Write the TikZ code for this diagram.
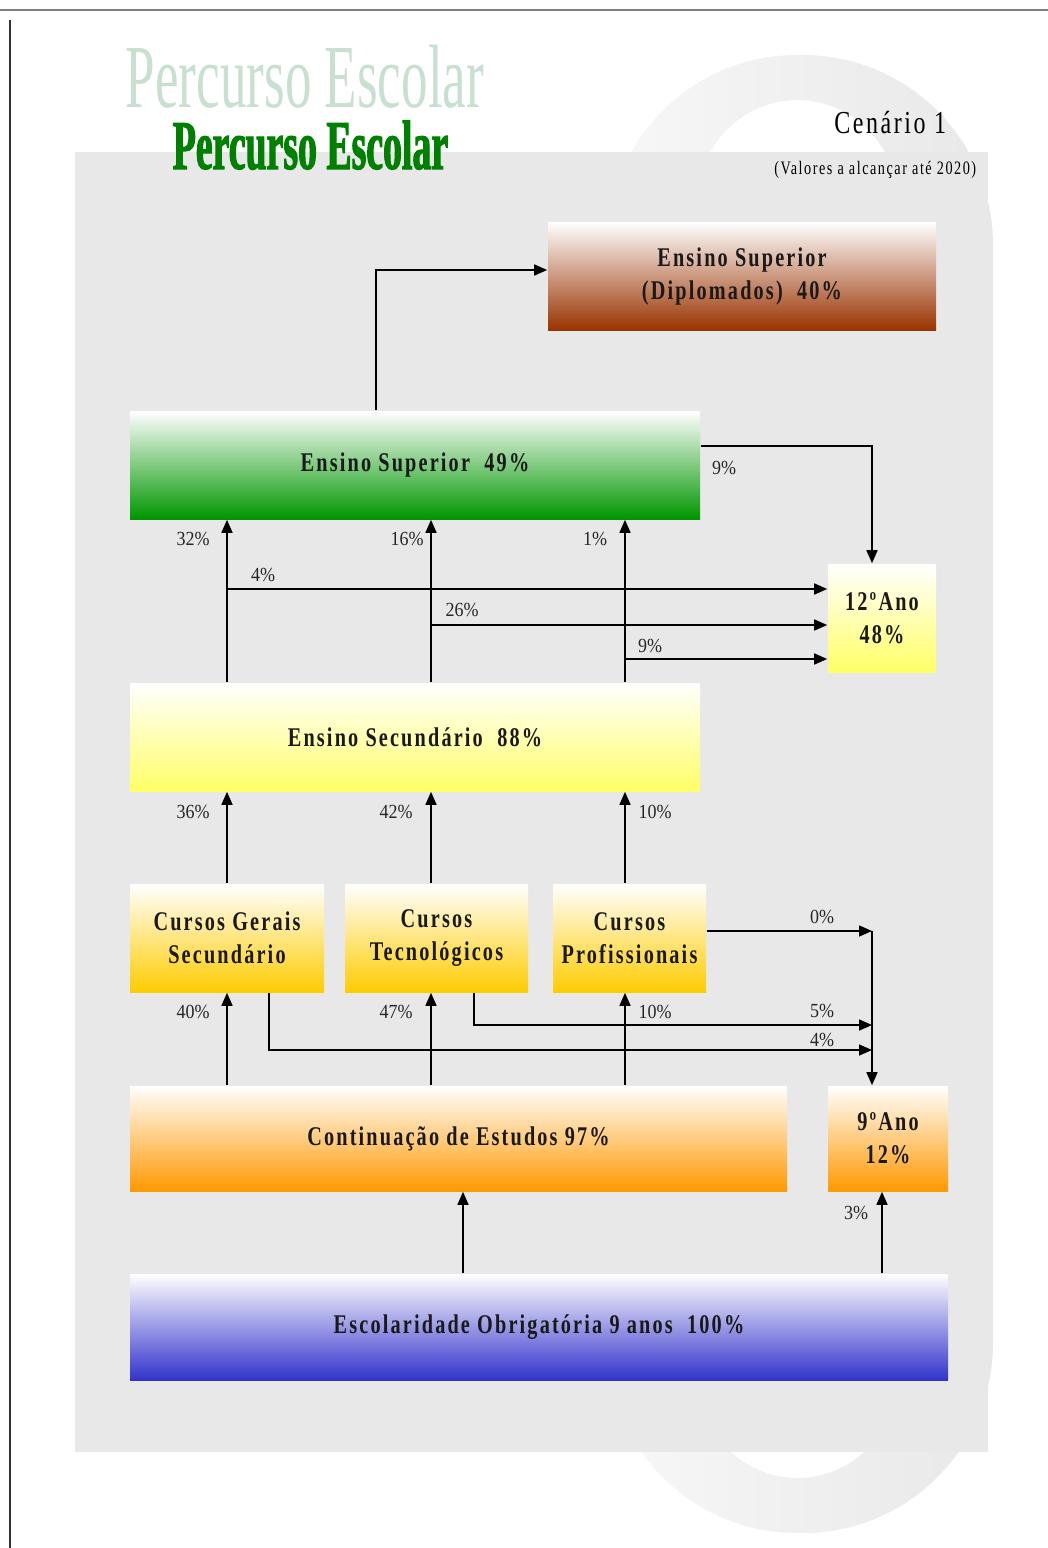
\documentclass[tikz,border=0pt]{standalone}
\usepackage{fontspec}
\setmainfont{Liberation Serif}
\newfontfamily\boxfont[FakeStretch=0.75,LetterSpace=8]{Liberation Serif}
\newfontfamily\pctfont[FakeStretch=0.9]{Liberation Serif}
\newfontfamily\titlefont[FakeStretch=0.59]{Liberation Serif}
\newfontfamily\titleboldfont[FakeStretch=0.54,FakeBold=1.5]{Liberation Serif}
\usetikzlibrary{arrows.meta}
\usetikzlibrary{calc}

\definecolor{bggray}{RGB}{232,232,232}
\definecolor{dipred}{RGB}{153,51,0}
\definecolor{supgreen}{RGB}{0,150,0}
\definecolor{secyellow}{RGB}{255,255,102}
\definecolor{curgold}{RGB}{255,204,0}
\definecolor{contorange}{RGB}{255,153,0}
\definecolor{escblue}{RGB}{51,51,204}
\definecolor{titlelight}{RGB}{200,224,208}
\definecolor{titledark}{RGB}{0,128,0}

\begin{document}
\begin{tikzpicture}[x=0.5pt, y=-0.5pt, line width=0.8pt,
        box_style/.style={rectangle, inner sep=0pt, align=center, text=black!90, top color=white, font=\boxfont\bfseries\fontsize{13.5pt}{16.5pt}\selectfont},
        pct_style/.style={inner sep=0pt, text=black!85, font=\pctfont\fontsize{10pt}{12pt}\selectfont},
        edge_style/.style={draw=black, line width=0.8pt, -{Triangle[length=6.5pt,width=5.5pt]}}]

        \useasboundingbox (0,0) rectangle (1048,1548);

        \shade [left color=black!3, right color=black!9, even odd rule, rounded corners=95pt] (607,55) rectangle (993,1533) [rounded corners=50pt] (698,100) rectangle (897,1478);

        \fill [bggray] (75,152) rectangle (988,1452);

        \draw [gray, line width=1pt] (0,10) -- (1048,10);

        \draw [black!80, line width=1pt] (10,20) -- (10,1548);

        \node [anchor=base west, inner sep=0pt, text=titlelight, font=\titlefont\fontsize{45pt}{50pt}\selectfont] (title_back) at (125,107) {Percurso Escolar};

        \node [anchor=base west, inner sep=0pt, text=titledark, font=\titleboldfont\bfseries\fontsize{35pt}{40pt}\selectfont] (title_front) at (172,169) {Percurso Escolar};

        \node [anchor=base east, inner sep=0pt, font=\boxfont\fontsize{16pt}{18pt}\selectfont] (scen) at (947,133) {Cenário 1};

        \node [anchor=base east, inner sep=0pt, font=\boxfont\fontsize{9.5pt}{11pt}\selectfont] (scen_note) at (977,174) {(Valores a alcançar até 2020)};

        \node [box_style, bottom color=dipred, minimum width=194pt, minimum height=54pt] (ens_dip) at (742,276) {Ensino Superior\\(Diplomados)\ \ 40\%};

        \node [box_style, bottom color=supgreen, minimum width=285pt, minimum height=54pt] (ens_sup) at (415,465) {Ensino Superior\ \ 49\%};

        \node [box_style, bottom color=secyellow, minimum width=54pt, minimum height=54pt] (ano_12) at (882,618) {12ºAno\\48\%};

        \node [box_style, bottom color=secyellow, minimum width=285pt, minimum height=54pt] (ens_sec) at (415,737) {Ensino Secundário\ \ 88\%};

        \node [box_style, bottom color=curgold, minimum width=97pt, minimum height=54pt] (cur_ger) at (227,938) {Cursos Gerais\\Secundário};

        \node [box_style, bottom color=curgold, minimum width=91.5pt, minimum height=54pt] (cur_tec) at (436.5,938) {Cursos\\Tecnológicos};

        \node [box_style, bottom color=curgold, minimum width=76.5pt, minimum height=54pt] (cur_pro) at (629.5,938) {Cursos\\Profissionais};

        \node [box_style, bottom color=contorange, minimum width=328.5pt, minimum height=52.5pt] (cont_est) at (458.5,1138.5) {Continuação de Estudos 97\%};

        \node [box_style, bottom color=contorange, minimum width=60pt, minimum height=52.5pt] (ano_9) at (888,1138.5) {9ºAno\\12\%};

        \node [box_style, bottom color=escblue, minimum width=409pt, minimum height=53pt] (esc_obr) at (539,1327) {Escolaridade Obrigatória 9 anos\ \ 100\%};

        \coordinate (col_a) at (227,0);
        \coordinate (col_b) at (431,0);
        \coordinate (col_c) at (625,0);
        \coordinate (col_d) at (872,0);
        \coordinate (col_e) at (474,0);
        \coordinate (col_f) at (269,0);
        \coordinate (col_g) at (463,0);
        \coordinate (col_h) at (882,0);
        \coordinate (col_i) at (376,0);
        \coordinate (row_a) at (0,589);
        \coordinate (row_b) at (0,625);
        \coordinate (row_c) at (0,659);
        \coordinate (row_d) at (0,931);
        \coordinate (row_e) at (0,1025);
        \coordinate (row_f) at (0,1050);
        \coordinate (row_g) at (0,446);
        \coordinate (row_h) at (0,270);

        \draw [edge_style] (ens_sup.north -| col_i) |- (ens_dip.west |- row_h);

        \draw [edge_style] (ens_sup.east |- row_g) -| (ano_12.north -| col_d);

        \draw [edge_style] (ens_sec.north -| col_a) -- (ens_sup.south -| col_a);

        \draw [edge_style] (ens_sec.north -| col_b) -- (ens_sup.south -| col_b);

        \draw [edge_style] (ens_sec.north -| col_c) -- (ens_sup.south -| col_c);

        \draw [edge_style] (col_a |- row_a) -- (ano_12.west |- row_a);

        \draw [edge_style] (col_b |- row_b) -- (ano_12.west |- row_b);

        \draw [edge_style] (col_c |- row_c) -- (ano_12.west |- row_c);

        \draw [edge_style] (cur_ger.north -| col_a) -- (ens_sec.south -| col_a);

        \draw [edge_style] (cur_tec.north -| col_b) -- (ens_sec.south -| col_b);

        \draw [edge_style] (cur_pro.north -| col_c) -- (ens_sec.south -| col_c);

        \draw [edge_style] (cur_pro.east |- row_d) -- (col_d |- row_d);

        \draw [edge_style] (col_d |- row_d) -- (ano_9.north -| col_d);

        \draw [edge_style] (cur_tec.south -| col_e) |- (col_d |- row_e);

        \draw [edge_style] (cur_ger.south -| col_f) |- (col_d |- row_f);

        \draw [edge_style] (cont_est.north -| col_a) -- (cur_ger.south -| col_a);

        \draw [edge_style] (cont_est.north -| col_b) -- (cur_tec.south -| col_b);

        \draw [edge_style] (cont_est.north -| col_c) -- (cur_pro.south -| col_c);

        \draw [edge_style] (esc_obr.north -| col_g) -- (cont_est.south -| col_g);

        \draw [edge_style] (esc_obr.north -| col_h) -- (ano_9.south -| col_h);

        \node [pct_style] (p_dip) at (724,468) {9\%};
        \node [pct_style] (p_sup_a) at (193,539) {32\%};
        \node [pct_style] (p_sup_b) at (407,539) {16\%};
        \node [pct_style] (p_sup_c) at (595,539) {1\%};
        \node [pct_style] (p_ano_a) at (263,575) {4\%};
        \node [pct_style] (p_ano_b) at (462,610) {26\%};
        \node [pct_style] (p_ano_c) at (650,646) {9\%};
        \node [pct_style] (p_sec_a) at (193,812) {36\%};
        \node [pct_style] (p_sec_b) at (396,812) {42\%};
        \node [pct_style] (p_sec_c) at (655,812) {10\%};
        \node [pct_style] (p_nove_a) at (822,917) {0\%};
        \node [pct_style] (p_nove_b) at (822,1011) {5\%};
        \node [pct_style] (p_nove_c) at (822,1040) {4\%};
        \node [pct_style] (p_cur_a) at (193,1012) {40\%};
        \node [pct_style] (p_cur_b) at (396,1012) {47\%};
        \node [pct_style] (p_cur_c) at (655,1012) {10\%};
        \node [pct_style] (p_esc) at (856,1213) {3\%};

        \end{tikzpicture}
\end{document}
